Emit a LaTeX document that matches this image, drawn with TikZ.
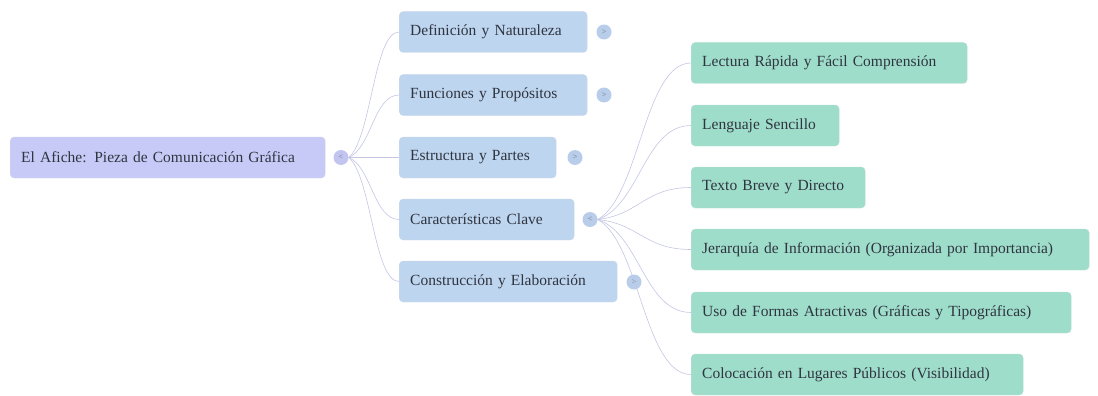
\documentclass[tikz,border=0pt]{standalone}
\usepackage{fontspec}
\setmainfont{Liberation Serif}
\usetikzlibrary{calc}
\definecolor{rootfill}{HTML}{C7CAF6}
\definecolor{onefill}{HTML}{BED5EF}
\definecolor{twofill}{HTML}{9FDDCB}
\definecolor{rootknob}{HTML}{C2C5F0}
\definecolor{oneknob}{HTML}{B7CDEA}
\definecolor{linkcol}{HTML}{C4C6E4}
\definecolor{labeltext}{HTML}{2F3540}
\tikzset{
  box/.style={rounded corners=4pt, minimum height=41pt, anchor=west,
    inner xsep=11pt, inner ysep=0pt, align=left,
    font=\fontsize{15.5}{17}\selectfont, text=labeltext},
  rootbox/.style={box, fill=rootfill, draw=rootfill!90!black!60},
  onebox/.style={box, fill=onefill, draw=onefill!90!black!60},
  twobox/.style={box, fill=twofill, draw=twofill!90!black!60},
  knob/.style={circle, minimum size=15pt, inner sep=0pt,
    font=\fontsize{8}{8}\selectfont, text=labeltext!70},
  rootknobst/.style={knob, fill=rootknob},
  oneknobst/.style={knob, fill=oneknob},
  link/.style={draw=linkcol, line width=0.6pt,
    to path={let \p1=(\tikztostart), \p2=(\tikztotarget) in
      .. controls ({\x1+0.45*(\x2-\x1)},{\y1+0.15*(\y2-\y1)})
      and ({\x1+0.5*(\x2-\x1)},\y2) .. (\tikztotarget)}}
}
\begin{document}
\begin{tikzpicture}[x=1pt,y=-1pt]
\useasboundingbox (0,0) rectangle (1098,396);

% root (box width = text width + 22pt)
\node[rootbox, text width=293pt] (root) at (10,157.5) {El Afiche: Pieza de Comunicación Gráfica};
\node[rootknobst] (k0) at (341,157.5) {<};

% first level
\node[onebox, text width=166pt] (d1) at (399,32) {Definición y Naturaleza};
\node[onebox, text width=166pt] (d2) at (399,95) {Funciones y Propósitos};
\node[onebox, text width=135pt] (d3) at (399,157.5) {Estructura y Partes};
\node[onebox, text width=153pt] (d4) at (399,219.5) {Características Clave};
\node[onebox, text width=196pt] (d5) at (399,281.5) {Construcción y Elaboración};

\node[oneknobst] (k1) at (604,32) {>};
\node[oneknobst] (k2) at (604,95) {>};
\node[oneknobst] (k3) at (575,157.5) {>};
\node[oneknobst] (k4) at (590,219.5) {<};
\node[oneknobst] (k5) at (634,282) {>};

% second level under Características Clave
\node[twobox, text width=254pt] (c1) at (691,63) {Lectura Rápida y Fácil Comprensión};
\node[twobox, text width=126pt] (c2) at (691,125.5) {Lenguaje Sencillo};
\node[twobox, text width=152pt] (c3) at (691,187.5) {Texto Breve y Directo};
\node[twobox, text width=376pt] (c4) at (691,249.5) {Jerarquía de Información (Organizada por Importancia)};
\node[twobox, text width=358pt] (c5) at (691,312.5) {Uso de Formas Atractivas (Gráficas y Tipográficas)};
\node[twobox, text width=310pt] (c6) at (691,374.5) {Colocación en Lugares Públicos (Visibilidad)};

% connectors
\foreach \t in {d1,d2,d3,d4,d5}
  \draw[link] (k0.east) to (\t.west);
\foreach \t in {c1,c2,c3,c4,c5,c6}
  \draw[link] (k4.east) to (\t.west);
\end{tikzpicture}
\end{document}
